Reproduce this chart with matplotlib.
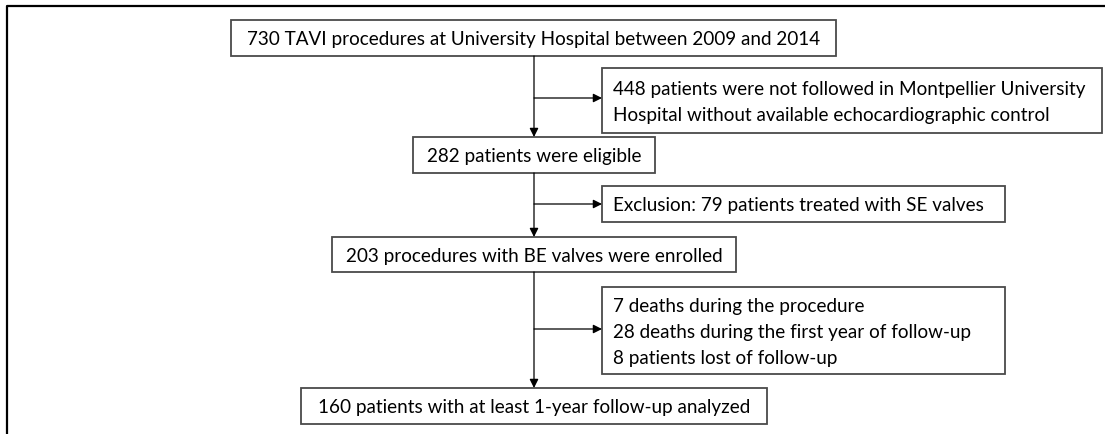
import matplotlib
matplotlib.use('Agg')
import matplotlib.pyplot as plt
from matplotlib.patches import Rectangle

plt.rcParams['font.family'] = ['Lato', 'DejaVu Sans']

# flowchart texts
main_steps = [
    '730 TAVI procedures at University Hospital between 2009 and 2014',
    '282 patients were eligible',
    '203 procedures with BE valves were enrolled',
    '160 patients with at least 1-year follow-up analyzed',
]
side_steps = [
    ['448 patients were not followed in Montpellier University',
     'Hospital without available echocardiographic control'],
    ['Exclusion: 79 patients treated with SE valves'],
    ['7 deaths during the procedure',
     '28 deaths during the first year of follow-up',
     '8 patients lost of follow-up'],
]

# layout in pixel units (x0, x1, y0, y1)
main_boxes = [(231, 836, 21, 57), (413, 655, 138, 174), (332, 736, 238, 273), (301, 767, 389, 425)]
side_boxes = [(602, 1102, 69, 134), (602, 1005, 187, 223), (602, 1005, 288, 375)]
branch_y = [99, 205, 330]
spine_x = 534
fs = 13.6
line_gap = 26

fig = plt.figure(figsize=(11.05, 4.35), dpi=100)
ax = fig.add_axes([0, 0, 1, 1])
ax.set_xlim(0, 1105)
ax.set_ylim(435, 0)
ax.axis('off')

# outer frame (top and left only, rest is cropped)
ax.plot([7, 7, 1105], [435, 7, 7], color='black', lw=1.6, solid_capstyle='butt')

def draw_box(b):
    x0, x1, y0, y1 = b
    ax.add_patch(Rectangle((x0, y0), x1 - x0, y1 - y0, fill=False,
                           edgecolor='#4a4a4a', lw=1.3))

def arrow(x0, y0, x1, y1):
    ax.annotate('', xy=(x1, y1), xytext=(x0, y0),
                arrowprops=dict(arrowstyle='-|>', color='black', lw=0.9,
                                mutation_scale=13, shrinkA=0, shrinkB=0))

for txt, b in zip(main_steps, main_boxes):
    draw_box(b)
    x0, x1, y0, y1 = b
    ax.text((x0 + x1) / 2, (y0 + y1) / 2 + 1, txt, ha='center', va='center',
            fontsize=fs, color='black')

for lines, b in zip(side_steps, side_boxes):
    draw_box(b)
    x0, x1, y0, y1 = b
    yc = (y0 + y1) / 2
    n = len(lines)
    for i, line in enumerate(lines):
        ax.text(x0 + 11, yc + (i - (n - 1) / 2) * line_gap + 1, line,
                ha='left', va='center', fontsize=fs, color='black')

# vertical arrows between main boxes
for a, b in zip(main_boxes[:-1], main_boxes[1:]):
    arrow(spine_x, a[3], spine_x, b[2])

# side branches
for y, b in zip(branch_y, side_boxes):
    arrow(spine_x, y, b[0], y)

fig.savefig('out.png', dpi=100)
